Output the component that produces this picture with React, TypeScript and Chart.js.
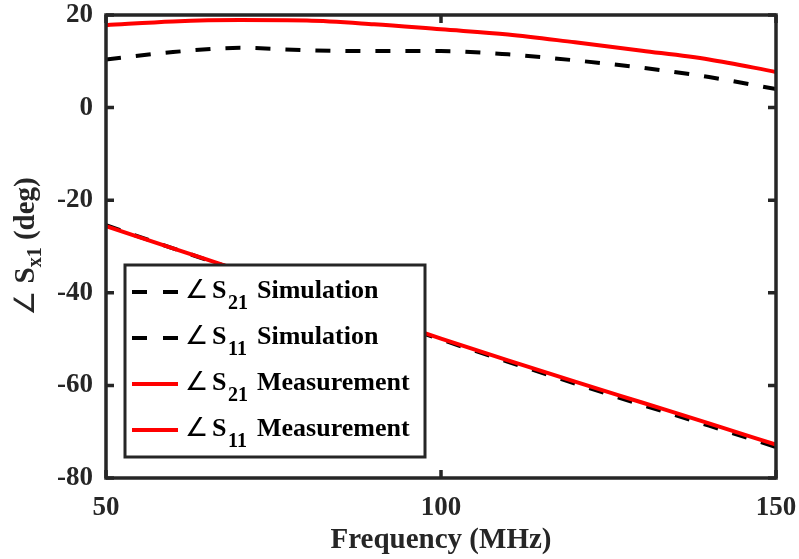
import React, { useEffect, useRef } from "react";
import { Chart, registerables } from "chart.js";

Chart.register(...registerables);

const freqMHz = [50, 60, 70, 80, 90, 100, 110, 120, 130, 140, 150];
const s21Sim = [10.4, 12.0, 12.9, 12.4, 12.2, 12.2, 11.5, 10.2, 8.6, 6.6, 4.0];
const s11Sim = [-25.4, -30.4, -35.3, -40.2, -45.2, -50.1, -54.9, -59.6, -64.2, -68.7, -73.3];
const s21Meas = [17.8, 18.6, 18.9, 18.8, 18.0, 16.9, 15.8, 14.1, 12.3, 10.4, 7.7];
const s11Meas = [-25.6, -30.4, -35.2, -40.0, -45.0, -49.9, -54.6, -59.2, -63.7, -68.2, -72.8];

const xTicks = [50, 100, 150];
const yTicks = [-80, -60, -40, -20, 0, 20];

const legendItems = [
  { sub: "21", word: "Simulation", color: "#000000", dashed: true },
  { sub: "11", word: "Simulation", color: "#000000", dashed: true },
  { sub: "21", word: "Measurement", color: "#ff0000", dashed: false },
  { sub: "11", word: "Measurement", color: "#ff0000", dashed: false },
];

const FONT = "'Liberation Serif', 'Times New Roman', serif";
const ANGLE_FONT = "'DejaVu Sans', sans-serif";
const AXIS = "#262626";

const toPts = (ys: number[]) => freqMHz.map((x, i) => ({ x, y: ys[i] }));

const overlay = {
  id: "overlay",
  afterDatasetsDraw(chart: any) {
    const { ctx, chartArea, scales } = chart;
    const { left, right, top, bottom } = chartArea;
    ctx.save();
    ctx.strokeStyle = AXIS;
    ctx.lineWidth = 3.5;
    ctx.lineCap = "butt";
    ctx.strokeRect(left, top, right - left, bottom - top);
    const tl = 8;
    ctx.beginPath();
    xTicks.forEach((v) => {
      const px = scales.x.getPixelForValue(v);
      ctx.moveTo(px, bottom);
      ctx.lineTo(px, bottom - tl);
      ctx.moveTo(px, top);
      ctx.lineTo(px, top + tl);
    });
    yTicks.forEach((v) => {
      const py = scales.y.getPixelForValue(v);
      ctx.moveTo(left, py);
      ctx.lineTo(left + tl, py);
      ctx.moveTo(right, py);
      ctx.lineTo(right - tl, py);
    });
    ctx.stroke();
    ctx.restore();
  },
  afterDraw(chart: any) {
    const { ctx, chartArea } = chart;
    const { left, right, top, bottom } = chartArea;
    ctx.save();
    // X title
    ctx.fillStyle = AXIS;
    ctx.font = `bold 29px ${FONT}`;
    ctx.textAlign = "center";
    ctx.textBaseline = "alphabetic";
    ctx.fillText("Frequency (MHz)", (left + right) / 2, 548);

    // Y title with subscript
    const segs = [
      { t: "\u2220", f: `28px ${ANGLE_FONT}`, dy: 0 },
      { t: " S", f: `bold 29px ${FONT}`, dy: 0 },
      { t: "x1", f: `bold 20px ${FONT}`, dy: 7 },
      { t: " (deg)", f: `bold 29px ${FONT}`, dy: 0 },
    ];
    let total = 0;
    segs.forEach((s) => {
      ctx.font = s.f;
      total += ctx.measureText(s.t).width;
    });
    ctx.translate(34, (top + bottom) / 2);
    ctx.rotate(-Math.PI / 2);
    ctx.textAlign = "left";
    let cx = -total / 2;
    segs.forEach((s) => {
      ctx.font = s.f;
      ctx.fillText(s.t, cx, s.dy);
      cx += ctx.measureText(s.t).width;
    });
    ctx.restore();

    // Legend
    ctx.save();
    const bx = 125, by = 265, bw = 300, bh = 192;
    ctx.fillStyle = "#ffffff";
    ctx.fillRect(bx, by, bw, bh);
    ctx.strokeStyle = AXIS;
    ctx.lineWidth = 3;
    ctx.strokeRect(bx, by, bw, bh);
    const rowY = [292, 338, 384, 430];
    legendItems.forEach((it, i) => {
      const y = rowY[i];
      ctx.strokeStyle = it.color;
      ctx.lineWidth = 4;
      ctx.setLineDash(it.dashed ? [15, 16] : []);
      ctx.beginPath();
      ctx.moveTo(132, y);
      ctx.lineTo(178, y);
      ctx.stroke();
      ctx.setLineDash([]);
      ctx.fillStyle = "#000000";
      ctx.textAlign = "left";
      ctx.textBaseline = "alphabetic";
      ctx.font = `26px ${ANGLE_FONT}`;
      ctx.fillText("\u2220", 185, y + 6);
      ctx.font = `bold 26px ${FONT}`;
      ctx.fillText("S", 212, y + 6);
      ctx.font = `bold 20px ${FONT}`;
      ctx.fillText(it.sub, 228, y + 17);
      ctx.font = `bold 26px ${FONT}`;
      ctx.fillText(it.word, 257, y + 6);
    });
    ctx.restore();
  },
};

export default function App() {
  const ref = useRef<HTMLCanvasElement | null>(null);
  useEffect(() => {
    if (!ref.current) return;
    const chart = new Chart(ref.current, {
      type: "line",
      data: {
        datasets: [
          { label: "S21 Measurement", data: toPts(s21Meas), borderColor: "#ff0000", borderWidth: 4, pointRadius: 0, cubicInterpolationMode: "monotone", order: 0 },
          { label: "S11 Measurement", data: toPts(s11Meas), borderColor: "#ff0000", borderWidth: 4, pointRadius: 0, cubicInterpolationMode: "monotone", order: 1 },
          { label: "S21 Simulation", data: toPts(s21Sim), borderColor: "#000000", borderWidth: 4, borderDash: [15, 15], pointRadius: 0, cubicInterpolationMode: "monotone", order: 2 },
          { label: "S11 Simulation", data: toPts(s11Sim), borderColor: "#000000", borderWidth: 4, borderDash: [15, 15], pointRadius: 0, cubicInterpolationMode: "monotone", order: 3 },
        ],
      },
      options: {
        animation: false,
        responsive: false,
        maintainAspectRatio: false,
        layout: { padding: 0 },
        plugins: { legend: { display: false }, tooltip: { enabled: false }, title: { display: false } },
        scales: {
          x: {
            type: "linear",
            min: 50,
            max: 150,
            grid: { display: false, drawTicks: false },
            border: { display: false },
            ticks: { stepSize: 50, padding: 14, color: AXIS, font: { family: FONT, weight: "bold", size: 27 } },
            afterFit: (s: any) => { s.height = 81; s.paddingLeft = 0; s.paddingRight = 23; },
          },
          y: {
            type: "linear",
            min: -80,
            max: 20,
            grid: { display: false, drawTicks: false },
            border: { display: false },
            ticks: { stepSize: 20, padding: 13, color: AXIS, font: { family: FONT, weight: "bold", size: 27 } },
            afterFit: (s: any) => { s.width = 106; s.paddingTop = 15; s.paddingBottom = 0; },
          },
        },
      } as any,
      plugins: [overlay],
    });
    return () => chart.destroy();
  }, []);
  return (
    <div style={{ position: "fixed", left: 0, top: 0, width: 799, height: 559, background: "#fff" }}>
      <canvas ref={ref} width={799} height={559} />
    </div>
  );
}
